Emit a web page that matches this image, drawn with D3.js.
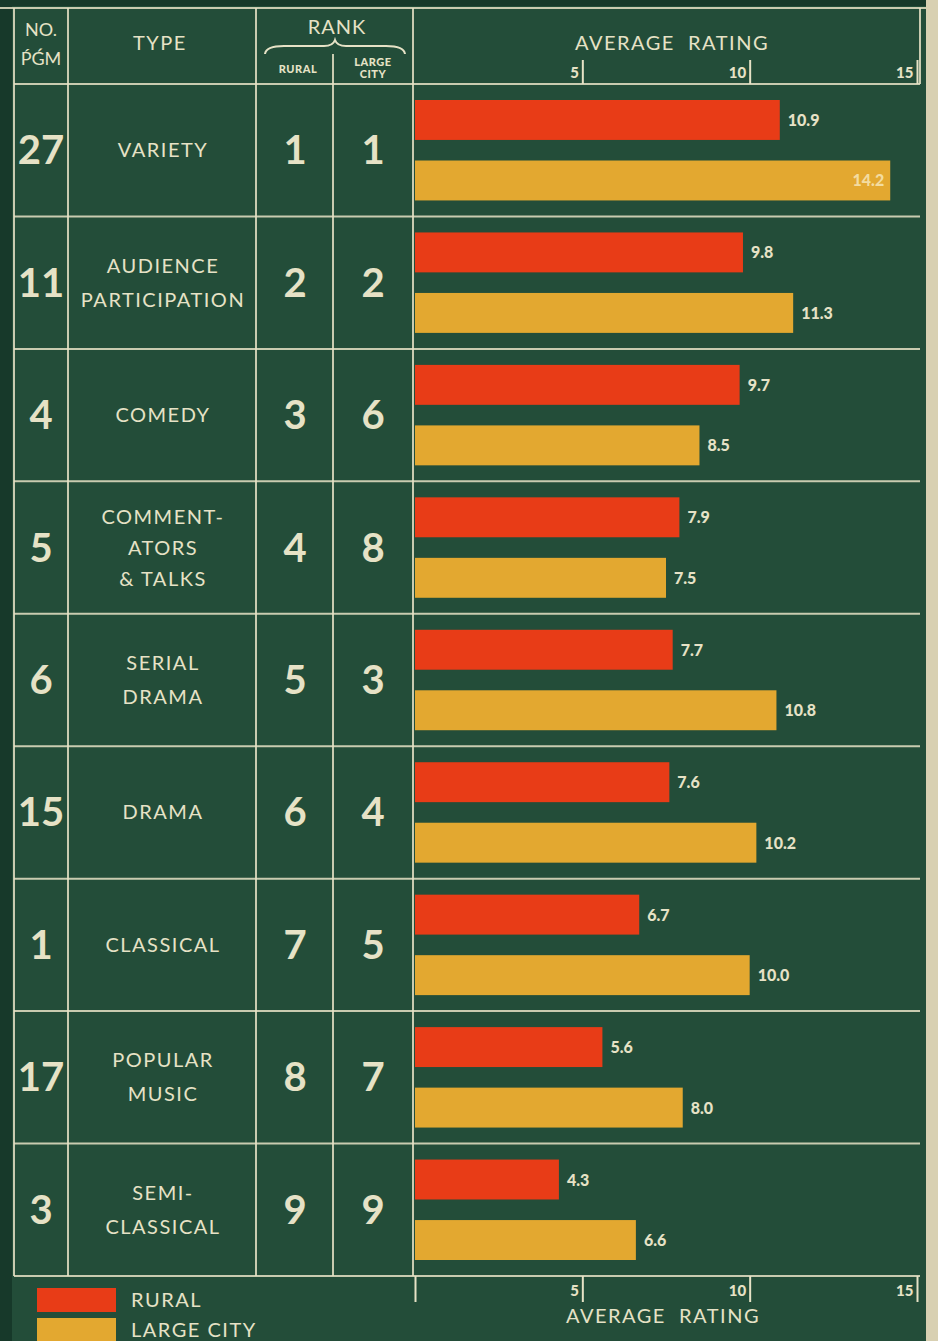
<!DOCTYPE html>
<html>
<head>
<meta charset="utf-8">
<script src="https://cdn.jsdelivr.net/npm/d3@7"></script>
<style>
  body { margin: 0; background: #d8d0b2; }
  svg { display: block; }
  text { font-family: Lato, "Noto Sans", sans-serif; fill: #e6e2c6; }
</style>
</head>
<body>
<svg></svg>
<script>
// data
const programNo = ['27', '11', '4', '5', '6', '15', '1', '17', '3'];
const types = [
    ['VARIETY'],
    ['AUDIENCE', 'PARTICIPATION'],
    ['COMEDY'],
    ['COMMENT-', 'ATORS', '& TALKS'],
    ['SERIAL', 'DRAMA'],
    ['DRAMA'],
    ['CLASSICAL'],
    ['POPULAR', 'MUSIC'],
    ['SEMI-', 'CLASSICAL']
];
const rankRural = [1, 2, 3, 4, 5, 6, 7, 8, 9];
const rankCity = [1, 2, 6, 8, 3, 4, 5, 7, 9];
const ratingRural = [10.9, 9.8, 9.7, 7.9, 7.7, 7.6, 6.7, 5.6, 4.3];
const ratingCity = [14.2, 11.3, 8.5, 7.5, 10.8, 10.2, 10.0, 8.0, 6.6];
const ratingTicks = [5, 10, 15];
const seriesNames = ['RURAL', 'LARGE CITY'];

const width = 938, height = 1341;
const chalk = '#e6e2c6';
const colors = {'RURAL': '#e83c17', 'LARGE CITY': '#e3a830'};

let svg = d3.select('svg')
    .attr('width', width)
    .attr('height', height);

// board
svg.append('rect').attr('x', 0).attr('y', 0).attr('width', 926).attr('height', height).attr('fill', '#234d39');
svg.append('rect').attr('x', 0).attr('y', 0).attr('width', 12).attr('height', height).attr('fill', '#17392a');
svg.append('rect').attr('x', 0).attr('y', 0).attr('width', 926).attr('height', 6).attr('fill', '#17392a');

const gridLeft = 14, gridRight = 920, gridTop = 8, headerBottom = 84, gridBottom = 1276;

let rows = types.map((t, i) => ({
    no: programNo[i], type: t, rural: rankRural[i], city: rankCity[i],
    values: [
        {series: 'RURAL', value: ratingRural[i]},
        {series: 'LARGE CITY', value: ratingCity[i]}
    ]
}));

let yScale = d3.scaleBand()
    .domain(d3.range(rows.length))
    .range([headerBottom, gridBottom]);

let barScale = d3.scaleBand()
    .domain(seriesNames)
    .range([16, yScale.bandwidth() - 16])
    .paddingInner(0.34);

let xScale = d3.scaleLinear()
    .domain([0, 15])
    .range([415, 917]);

// grid
let grid = svg.append('g')
    .attr('stroke', chalk)
    .attr('stroke-width', 2)
    .attr('stroke-opacity', 0.85);

grid.append('line').attr('x1', 0).attr('x2', 926).attr('y1', gridTop).attr('y2', gridTop);
grid.append('line').attr('x1', gridLeft).attr('x2', gridLeft).attr('y1', gridTop).attr('y2', gridBottom);
grid.append('line').attr('x1', gridRight).attr('x2', gridRight).attr('y1', gridTop).attr('y2', headerBottom);
[68, 256, 413].forEach(x => {
    grid.append('line').attr('x1', x).attr('x2', x).attr('y1', gridTop).attr('y2', gridBottom);
});
grid.append('line').attr('x1', 333).attr('x2', 333).attr('y1', 54).attr('y2', gridBottom);
grid.selectAll('.rowline')
    .data(d3.range(rows.length + 1))
    .enter()
    .append('line')
        .attr('x1', gridLeft)
        .attr('x2', gridRight)
        .attr('y1', d => d === rows.length ? gridBottom : yScale(d))
        .attr('y2', d => d === rows.length ? gridBottom : yScale(d));

// header
svg.append('text').text('NO.').attr('x', 41).attr('y', 36).attr('text-anchor', 'middle').style('font-size', '18px');
svg.append('text').text('ṔǴM').attr('x', 41).attr('y', 65).attr('text-anchor', 'middle').style('font-size', '18px');
svg.append('text').text('TYPE').attr('x', 160).attr('y', 50).attr('text-anchor', 'middle')
    .style('font-size', '20px').style('letter-spacing', '1.5px');
svg.append('text').text('RANK').attr('x', 337).attr('y', 34).attr('text-anchor', 'middle')
    .style('font-size', '20px').style('letter-spacing', '1px');
svg.append('path')
    .attr('d', 'M265,54 Q266,46 284,46 L324,46 Q333,46 335,40 Q337,46 346,46 L386,46 Q404,46 405,54')
    .attr('fill', 'none').attr('stroke', chalk).attr('stroke-width', 2);
svg.append('text').text('RURAL').attr('x', 298).attr('y', 73).attr('text-anchor', 'middle')
    .style('font-size', '11px').style('font-weight', 900).style('letter-spacing', '0.5px');
svg.append('text').text('LARGE').attr('x', 373).attr('y', 66).attr('text-anchor', 'middle')
    .style('font-size', '11px').style('font-weight', 900).style('letter-spacing', '0.5px');
svg.append('text').text('CITY').attr('x', 373).attr('y', 78).attr('text-anchor', 'middle')
    .style('font-size', '11px').style('font-weight', 900).style('letter-spacing', '0.5px');
svg.append('text').text('AVERAGE  RATING').attr('x', 672).attr('y', 50).attr('text-anchor', 'middle')
    .style('font-size', '20px').style('letter-spacing', '1.5px').style('white-space', 'pre');

// axes (tick labels sit to the left of each tick)
let topAxis = d3.axisTop(xScale).tickValues(ratingTicks).tickSize(24).tickSizeOuter(0);
let gTop = svg.append('g').attr('transform', `translate(0,${headerBottom})`).call(topAxis);
let bottomAxis = d3.axisBottom(xScale).tickValues([0].concat(ratingTicks)).tickSize(26).tickSizeOuter(0)
    .tickFormat(d => d === 0 ? '' : d);
let gBottom = svg.append('g').attr('transform', `translate(0,${gridBottom})`).call(bottomAxis);
[gTop, gBottom].forEach(g => {
    g.select('.domain').remove();
    g.selectAll('line').attr('stroke', chalk).attr('stroke-width', 2);
    g.selectAll('text')
        .attr('fill', chalk)
        .attr('text-anchor', 'end')
        .attr('x', -4)
        .style('font-family', 'Lato, sans-serif')
        .style('font-size', '15px')
        .style('font-weight', 900);
});
gTop.selectAll('text').attr('y', -6).attr('dy', 0);
gBottom.selectAll('text').attr('y', 20).attr('dy', 0);
svg.append('text').text('AVERAGE  RATING').attr('x', 663).attr('y', 1323).attr('text-anchor', 'middle')
    .style('font-size', '20px').style('letter-spacing', '1.5px').style('white-space', 'pre');

// rows
let rowG = svg.selectAll('.row')
    .data(rows)
    .enter()
    .append('g')
        .classed('row', true)
        .attr('transform', (d, i) => `translate(0,${yScale(i)})`);

const mid = yScale.bandwidth() / 2;

rowG.append('text').text(d => d.no).attr('x', 41).attr('y', mid + 14).attr('text-anchor', 'middle')
    .style('font-size', '40px').style('font-weight', 700);
rowG.append('text').text(d => d.rural).attr('x', 295).attr('y', mid + 14).attr('text-anchor', 'middle')
    .style('font-size', '40px').style('font-weight', 700);
rowG.append('text').text(d => d.city).attr('x', 373).attr('y', mid + 14).attr('text-anchor', 'middle')
    .style('font-size', '40px').style('font-weight', 700);

rowG.each(function(d) {
    let n = d.type.length;
    let lh = n === 3 ? 31 : 34;
    d3.select(this).selectAll('.type')
        .data(d.type)
        .enter()
        .append('text')
            .classed('type', true)
            .text(t => t)
            .attr('x', 163)
            .attr('y', (t, j) => mid + 7 + (j - (n - 1) / 2) * lh)
            .attr('text-anchor', 'middle')
            .style('font-size', '20px')
            .style('letter-spacing', '1.5px');
});

// bars
rowG.selectAll('rect')
    .data(d => d.values)
    .enter()
    .append('rect')
        .attr('x', xScale(0))
        .attr('y', d => barScale(d.series))
        .attr('width', d => xScale(d.value) - xScale(0))
        .attr('height', barScale.bandwidth())
        .attr('fill', d => colors[d.series]);

rowG.selectAll('.val')
    .data(d => d.values)
    .enter()
    .append('text')
        .classed('val', true)
        .text(d => d3.format('.1f')(d.value))
        .attr('x', d => d.value > 14 ? xScale(d.value) - 6 : xScale(d.value) + 8)
        .attr('y', d => barScale(d.series) + barScale.bandwidth() / 2 + 6)
        .attr('text-anchor', d => d.value > 14 ? 'end' : 'start')
        .style('fill', d => d.value > 14 ? '#f3dca0' : chalk)
        .style('font-size', '16px')
        .style('font-weight', 900);

// legend
let legend = svg.selectAll('.legend')
    .data(seriesNames)
    .enter()
    .append('g')
        .classed('legend', true)
        .attr('transform', (d, i) => `translate(37,${1288 + i * 30})`);
legend.append('rect').attr('width', 79).attr('height', 24).attr('fill', d => colors[d]);
legend.append('text').text(d => d).attr('x', 94).attr('y', 19)
    .style('font-size', '20px').style('letter-spacing', '1.5px');
</script>
</body>
</html>
